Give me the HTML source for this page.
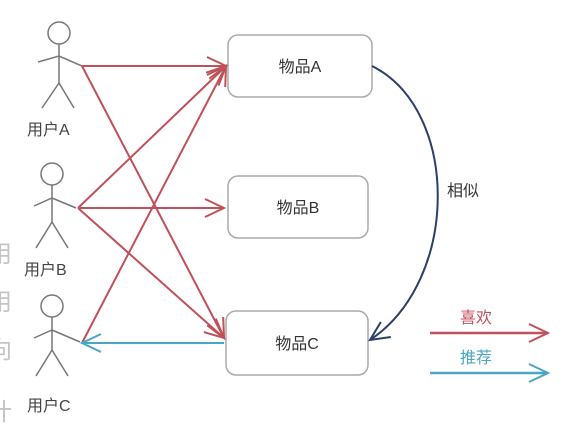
<!DOCTYPE html>
<html><head><meta charset="utf-8"><style>
body{margin:0;background:#fff;}
svg{display:block;font-family:"Liberation Sans","Noto Sans CJK SC",sans-serif;}
</style></head><body>
<svg width="572" height="428" viewBox="0 0 572 428" xmlns="http://www.w3.org/2000/svg">
<defs>
<marker id="r" markerWidth="24" markerHeight="24" refX="21" refY="12" orient="auto" markerUnits="userSpaceOnUse"><path d="M2,3 L21,12 L2,21" fill="none" stroke="#c0505a" stroke-width="2"/></marker>
<marker id="b" markerWidth="24" markerHeight="24" refX="21" refY="12" orient="auto" markerUnits="userSpaceOnUse"><path d="M2,3 L21,12 L2,21" fill="none" stroke="#4aa7c0" stroke-width="2"/></marker>
<marker id="n" markerWidth="24" markerHeight="24" refX="21" refY="12" orient="auto" markerUnits="userSpaceOnUse"><path d="M2,3 L21,12 L2,21" fill="none" stroke="#2a3f6a" stroke-width="2"/></marker>
</defs>
<g fill="#c4c4c4" font-size="24">
<text x="-12" y="262">用</text><text x="-12" y="310">用</text><text x="-12" y="358">向</text><text x="-12" y="420">计</text>
</g>
<g stroke="#777" stroke-width="1.5" fill="none">
<circle cx="59" cy="33" r="11"/><path d="M59,44 V83 M38,62 L59,56 L82,66 M59,83 L42,108 M59,83 L74,108"/>
<circle cx="52" cy="174" r="11"/><path d="M52,185 V222 M34,206 L52,198 L76,208 M52,222 L36,248 M52,222 L68,248"/>
<circle cx="52" cy="306" r="11"/><path d="M52,317 V350 M34,338 L52,330 L80,342 M52,350 L36,376 M52,350 L68,376"/>
</g>
<g font-size="16" fill="#444">
<text x="27" y="135">用户A</text><text x="24" y="275">用户B</text><text x="27" y="411">用户C</text>
</g>
<g fill="#fff" stroke="#aaa" stroke-width="1.5">
<rect x="228" y="35" width="144" height="62" rx="10"/>
<rect x="228" y="176" width="140" height="62" rx="10"/>
<rect x="226" y="311" width="142" height="64" rx="10"/>
</g>
<g font-size="16" fill="#333" text-anchor="middle">
<text x="300" y="72">物品A</text><text x="298" y="213">物品B</text><text x="297" y="349">物品C</text>
</g>
<g stroke="#c0505a" stroke-width="2" fill="none">
<line x1="82" y1="66" x2="226" y2="66" marker-end="url(#r)"/>
<line x1="82" y1="66" x2="224" y2="338" marker-end="url(#r)"/>
<line x1="78" y1="208" x2="226" y2="66" marker-end="url(#r)"/>
<line x1="78" y1="208" x2="224" y2="208" marker-end="url(#r)"/>
<line x1="78" y1="208" x2="224" y2="338" marker-end="url(#r)"/>
<line x1="82" y1="343" x2="226" y2="66" marker-end="url(#r)"/>
</g>
<line x1="224" y1="343" x2="82" y2="343" stroke="#4aa7c0" stroke-width="2" marker-end="url(#b)"/>
<path d="M372,66 C460,110 460,280 370,340" fill="none" stroke="#2a3f6a" stroke-width="2" marker-end="url(#n)"/>
<text x="447" y="196" font-size="16" fill="#333">相似</text>
<line x1="430" y1="333" x2="548" y2="333" stroke="#c0505a" stroke-width="2.5" marker-end="url(#r)"/>
<text x="460" y="323" font-size="16" fill="#c0505a">喜欢</text>
<line x1="430" y1="373" x2="548" y2="373" stroke="#4aa7c0" stroke-width="2.5" marker-end="url(#b)"/>
<text x="460" y="363" font-size="16" fill="#4aa7c0">推荐</text>
</svg>
</body></html>
